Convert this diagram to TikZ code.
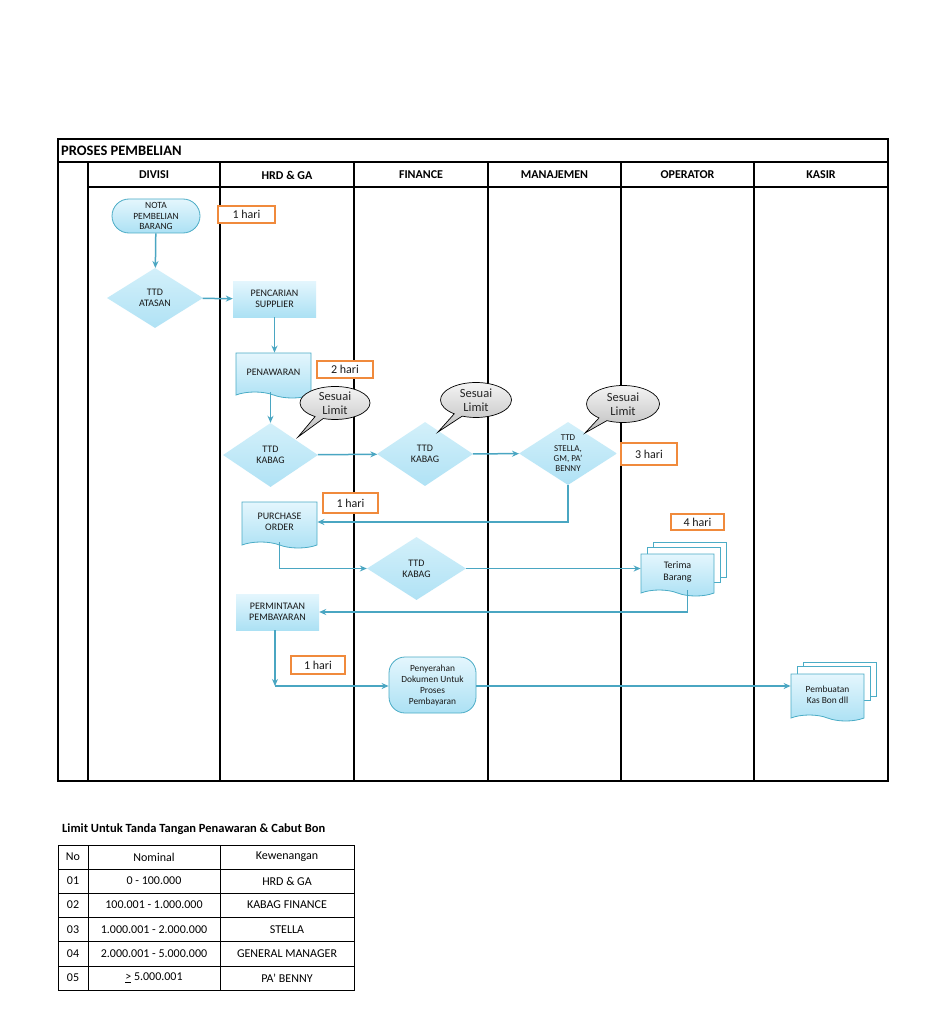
\documentclass[tikz,border=0pt]{standalone}
\usepackage{fontspec}
\setmainfont{Carlito}
\usetikzlibrary{shapes.geometric,shapes.symbols,shapes.callouts,arrows.meta,shadings}
\definecolor{lbtop}{HTML}{E4F6FD}
\definecolor{lbbot}{HTML}{ACE1F4}
\definecolor{edgec}{HTML}{4BACC6}
\definecolor{arrc}{HTML}{4AA6C2}
\definecolor{orng}{HTML}{F08A3C}
\definecolor{diatop}{HTML}{D3F0FA}
\definecolor{diabot}{HTML}{B0E2F5}
\definecolor{grtop}{HTML}{F4F4F4}
\definecolor{grbot}{HTML}{BDBDBD}
\begin{document}
\begin{tikzpicture}[x=1pt,y=-1pt,
  lanes/.style={line width=1.8pt, black},
  hdr/.style={font=\bfseries\fontsize{12}{13}\selectfont},
  ntext/.style={font=\fontsize{10}{11.2}\selectfont, align=center, text=black!90},
  bluefill/.style={top color=lbtop, bottom color=lbbot},
  termbox/.style={ntext, bluefill, draw=edgec, line width=0.8pt, rectangle, inner sep=0pt},
  procbox/.style={ntext, bluefill, rectangle, inner sep=1pt},
  docbox/.style={ntext, bluefill, draw=edgec, line width=0.8pt, tape, tape bend top=none, tape bend bottom=out and in, tape bend height=6pt, inner sep=1pt},
  backdoc/.style={draw=edgec, fill=white, line width=0.8pt},
  decbox/.style={ntext, diamond, top color=diatop, bottom color=diabot, inner sep=0pt},
  harib/.style={draw=orng, line width=2pt, fill=white, font=\fontsize{12}{13}\selectfont, inner sep=0pt, text=black!90},
  bubble/.style={ellipse callout, draw=black, line width=0.7pt, top color=grtop, bottom color=grbot, font=\fontsize{12.5}{14}\selectfont, align=center, inner sep=0pt, text=black!85},
  flow/.style={arrc, line width=1.5pt, -{Stealth[length=7pt,width=6pt]}},
  link/.style={arrc, line width=1.5pt},
  tcell/.style={font=\fontsize{12}{13}\selectfont, text=black},
  tgrid/.style={line width=0.9pt, black},
]
\useasboundingbox (0,0) rectangle (945,1024);
\fill[white] (0,0) rectangle (945,1024);

% ---------- swimlane frame ----------
\draw[lanes] (58,139) rectangle (888,781);
\draw[lanes] (58,162) -- (888,162);
\draw[lanes] (88,187) -- (888,187);
\foreach \x in {88,220,354,488,621,754} \draw[lanes] (\x,162) -- (\x,781);
\node[anchor=west, inner sep=0pt, font=\bfseries\fontsize{14.5}{16}\selectfont] (title) at (61,151) {PROSES PEMBELIAN};
\node[hdr] (hdiv) at (154,175) {DIVISI};
\node[hdr] (hhrd) at (287,175) {HRD \& GA};
\node[hdr] (hfin) at (421,175) {FINANCE};
\node[hdr] (hman) at (554.5,175) {MANAJEMEN};
\node[hdr] (hope) at (687.5,175) {OPERATOR};
\node[hdr] (hkas) at (821,175) {KASIR};

% ---------- back documents ----------
\draw[backdoc] (653,542) rectangle (726,577);
\draw[backdoc] (647,547) rectangle (720,582);
\draw[backdoc] (803,662) rectangle (876,696);
\draw[backdoc] (797,666) rectangle (870,700);

% ---------- nodes ----------
\node[termbox, rounded corners=17pt, minimum width=88pt, minimum height=34pt, font=\fontsize{9.5}{10.8}\selectfont] (nota) at (156,216) {NOTA\\PEMBELIAN\\BARANG};
\node[harib, minimum width=57pt, minimum height=17pt] (h1) at (246.5,214.5) {1 hari};
\node[decbox, minimum width=96pt, minimum height=60pt] (atasan) at (155,298) {TTD\\ATASAN};
\node[procbox, minimum width=83pt, minimum height=36pt] (cari) at (274.5,299) {PENCARIAN\\SUPPLIER};
\node[docbox, minimum width=75pt, minimum height=45pt] (tawar) at (273.5,372.5) {PENAWARAN};
\node[harib, minimum width=56pt, minimum height=17pt] (h2) at (345,369.5) {2 hari};
\node[decbox, minimum width=95pt, minimum height=64pt] (kabag1) at (270.5,455) {TTD\\KABAG};
\node[decbox, minimum width=96pt, minimum height=64pt] (kabag2) at (425,454) {TTD\\KABAG};
\node[decbox, shape aspect=1.5, minimum width=98pt, minimum height=63pt, font=\fontsize{9}{10.3}\selectfont] (stella) at (568,453.5) {TTD\\STELLA,\\GM, PA'\\BENNY};
\node[harib, minimum width=56pt, minimum height=22pt] (h3) at (649,454) {3 hari};
\node[docbox, minimum width=75pt, minimum height=46pt] (po) at (279.5,522) {PURCHASE\\ORDER};
\node[harib, minimum width=55pt, minimum height=20pt] (h4) at (350.5,503) {1 hari};
\node[decbox, minimum width=99pt, minimum height=63pt] (kabag3) at (416.5,568.5) {TTD\\KABAG};
\node[harib, minimum width=53pt, minimum height=16pt] (h5) at (697.5,522) {4 hari};
\node[docbox, minimum width=73pt, minimum height=42pt] (terima) at (677.5,572) {Terima\\Barang};
\node[procbox, minimum width=83pt, minimum height=36pt] (minta) at (277.5,612) {PERMINTAAN\\PEMBAYARAN};
\node[harib, minimum width=54pt, minimum height=18pt] (h6) at (318,665) {1 hari};
\node[termbox, rounded corners=16pt, minimum width=87pt, minimum height=56pt, font=\fontsize{9.4}{11}\selectfont] (serah) at (432.5,685) {Penyerahan\\Dokumen Untuk\\Proses\\Pembayaran};
\node[docbox, minimum width=73pt, minimum height=47pt, font=\fontsize{9.4}{11}\selectfont] (kas) at (827.5,694.5) {Pembuatan\\Kas Bon dll};

% ---------- callouts ----------
\node[bubble, minimum width=70pt, minimum height=33pt, callout absolute pointer={(298,437)}] (b1) at (335,403) {Sesuai\\Limit};
\node[bubble, minimum width=71pt, minimum height=35pt, callout absolute pointer={(438,432)}] (b2) at (476,400) {Sesuai\\Limit};
\node[bubble, minimum width=73pt, minimum height=37pt, callout absolute pointer={(585,433)}] (b3) at (623,404) {Sesuai\\Limit};

% ---------- connectors ----------
\coordinate (c1) at (275,686);
\draw[flow] (nota) -- (atasan);
\draw[flow] (atasan) -- (cari);
\draw[flow] (cari) -- (cari |- tawar.north);
\draw[flow] (kabag1.north |- tawar.south) -- (kabag1.north);
\draw[flow] (kabag1) -- (kabag2);
\draw[flow] (kabag2) -- (stella);
\draw[flow] (stella.south) |- (po.east);
\draw[flow] (po.south) |- (kabag3.west);
\draw[flow] (kabag3) -- (terima.west |- kabag3);
\draw[flow] ([xshift=10pt]terima.south) |- (minta.east);
\draw[flow] (minta.south -| c1) -- (c1);
\draw[flow] (c1) -- (serah.west |- c1);
\draw[flow] (serah.east |- c1) -- (kas.west |- c1);

% ---------- limit table ----------
\node[anchor=base west, inner sep=0pt, font=\bfseries\fontsize{12.5}{14}\selectfont] (ttitle) at (62,832) {Limit Untuk Tanda Tangan Penawaran \& Cabut Bon};
\draw[tgrid] (58,845) rectangle (354,990);
\foreach \y in {869,893,917.5,941.5,966} \draw[tgrid] (58,\y) -- (354,\y);
\foreach \x in {88,220} \draw[tgrid] (\x,845) -- (\x,990);
\node[tcell] (r0a) at (73,857) {No};
\node[tcell] (r0b) at (154,857) {Nominal};
\node[tcell] (r0c) at (287,857) {Kewenangan};
\node[tcell] (r1a) at (73,881) {01};
\node[tcell] (r1b) at (154,881) {0 - 100.000};
\node[tcell] (r1c) at (287,881) {HRD \& GA};
\node[tcell] (r2a) at (73,905) {02};
\node[tcell] (r2b) at (154,905) {100.001 - 1.000.000};
\node[tcell] (r2c) at (287,905) {KABAG FINANCE};
\node[tcell] (r3a) at (73,929.5) {03};
\node[tcell] (r3b) at (154,929.5) {1.000.001 - 2.000.000};
\node[tcell] (r3c) at (287,929.5) {STELLA};
\node[tcell] (r4a) at (73,954) {04};
\node[tcell] (r4b) at (154,954) {2.000.001 - 5.000.000};
\node[tcell] (r4c) at (287,954) {GENERAL MANAGER};
\node[tcell] (r5a) at (73,978) {05};
\node[tcell] (r5b) at (154,978) {\underline{>} 5.000.001};
\node[tcell] (r5c) at (287,978) {PA' BENNY};
\end{tikzpicture}
\end{document}
